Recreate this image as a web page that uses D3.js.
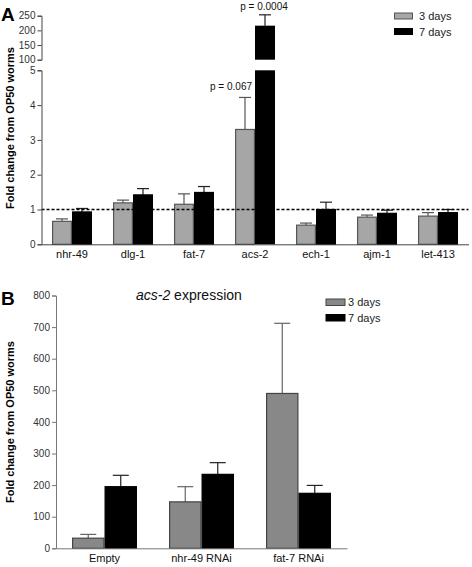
<!DOCTYPE html>
<html><head><meta charset="utf-8">
<script src="https://cdn.jsdelivr.net/npm/d3@7"></script>
<style>body{margin:0;background:#fff}svg{display:block;font-family:Arial,"Liberation Sans",sans-serif}</style>
</head><body><svg id="c" width="472" height="567"></svg>
<script>
// Panel A data
const genesA = ["nhr-49","dlg-1","fat-7","acs-2","ech-1","ajm-1","let-413"];
const a3 = [0.66, 1.19, 1.15, 3.30, 0.55, 0.78, 0.81];
const a3err = [0.07, 0.08, 0.30, 0.92, 0.06, 0.06, 0.10];
const a7 = [0.93, 1.42, 1.49, 216, 1.00, 0.89, 0.91];
const a7err = [0.10, 0.18, 0.17, 37, 0.21, 0.09, 0.09];
const ticksALow = [0,1,2,3,4,5];
const ticksAHigh = [100,150,200,250];
const pLabels = [{gene:"acs-2", series:0, text:"p = 0.067"},{gene:"acs-2", series:1, text:"p = 0.0004"}];
// Panel B data
const groupsB = ["Empty","nhr-49 RNAi","fat-7 RNAi"];
const b3 = [32, 147, 490];
const b3err = [12, 48, 222];
const b7 = [195, 234, 174];
const b7err = [36, 37, 25];
const ticksB = [0,100,200,300,400,500,600,700,800];
const seriesNames = ["3 days","7 days"];

const svg = d3.select("#c");
const fmt = d3.format("d");

// ---------- Panel A ----------
const A = svg.append("g");
const xA = d3.scaleBand().domain(genesA).range([41.5,468.5]).paddingInner(0.344).paddingOuter(0.172);
const xA2 = d3.scaleBand().domain([0,1]).range([0,xA.bandwidth()]);
const yLow = d3.scaleLinear().domain([0,5]).range([244.3,70.3]);
const yHigh = d3.scaleLinear().domain([100,250]).range([59.7,15.7]);
const fillA = ["#a6a6a6","#000"];
const strokeA = ["#555","#000"];

const dataA = genesA.map((g,i)=>[{g,s:0,v:a3[i],e:a3err[i]},{g,s:1,v:a7[i],e:a7err[i]}]).flat();

dataA.forEach(d=>{
  const x = xA(d.g)+xA2(d.s), w = xA2.bandwidth();
  const top = d.v>5 ? yHigh(d.v) : yLow(d.v);
  const errTop = d.v>5 ? yHigh(d.v+d.e) : yLow(d.v+d.e);
  const cx = x+w/2;
  A.append("line").attr("x1",cx).attr("x2",cx).attr("y1",top).attr("y2",errTop).attr("stroke",d.s?"#222":"#555").attr("stroke-width",1.2);
  A.append("line").attr("x1",cx-6).attr("x2",cx+6).attr("y1",errTop).attr("y2",errTop).attr("stroke",d.s?"#222":"#555").attr("stroke-width",1.2);
  if(d.v>5){
    A.append("rect").attr("x",x).attr("y",top).attr("width",w).attr("height",yHigh(100)-top).attr("fill",fillA[d.s]);
    A.append("rect").attr("x",x).attr("y",yLow(5)).attr("width",w).attr("height",yLow(0)-yLow(5)).attr("fill",fillA[d.s]);
  } else {
    A.append("rect").attr("x",x+0.6).attr("y",top).attr("width",w-1.2).attr("height",yLow(0)-top)
      .attr("fill",fillA[d.s]).attr("stroke",strokeA[d.s]).attr("stroke-width",1.2);
  }
});

// dotted reference line at 1
A.append("line").attr("x1",41.5).attr("x2",468.5).attr("y1",yLow(1)).attr("y2",yLow(1))
  .attr("stroke","#000").attr("stroke-width",1.5).attr("stroke-dasharray","3,2");

const axL = A.append("g").attr("transform","translate(41.5,0)").call(d3.axisLeft(yLow).tickValues(ticksALow).tickFormat(fmt).tickSize(4).tickSizeOuter(4).tickPadding(2));
const axH = A.append("g").attr("transform","translate(41.5,0)").call(d3.axisLeft(yHigh).tickValues(ticksAHigh).tickFormat(fmt).tickSize(4).tickSizeOuter(4).tickPadding(2));
[axL,axH].forEach(ax=>{ax.selectAll("path,line").attr("stroke","#444"); ax.selectAll("text").attr("font-size",10).attr("fill","#333");});
const axXA = A.append("g").attr("transform",`translate(0,${yLow(0)})`).call(d3.axisBottom(xA).tickSize(0).tickPadding(6));
axXA.select("path").attr("stroke","#444");
axXA.selectAll("text").attr("font-size",11).attr("fill","#111");

// p labels
pLabels.forEach(p=>{
  const i = genesA.indexOf(p.gene);
  if(p.series===0){
    A.append("text").attr("x",xA(p.gene)+xA2(1)-3).attr("y",yLow(a3[i]+a3err[i])-7).attr("text-anchor","end").attr("font-size",10).attr("fill","#111").text(p.text);
  } else {
    A.append("text").attr("x",xA(p.gene)+xA2(1)+xA2.bandwidth()/2-1).attr("y",yHigh(a7[i]+a7err[i])-5).attr("text-anchor","middle").attr("font-size",10).attr("fill","#111").text(p.text);
  }
});

// legend A
seriesNames.forEach((n,i)=>{
  A.append("rect").attr("x",394.5).attr("y",13+i*15.5).attr("width",18).attr("height",6).attr("fill",fillA[i]).attr("stroke",strokeA[i]);
  A.append("text").attr("x",419).attr("y",20+i*15.5).attr("font-size",11).attr("fill","#222").text(n);
});
A.append("text").attr("x",1).attr("y",21).attr("font-size",19).attr("font-weight","bold").text("A");
A.append("text").attr("transform","translate(14,128) rotate(-90)").attr("text-anchor","middle").attr("font-size",11).attr("font-weight","bold").text("Fold change from OP50 worms");

// ---------- Panel B ----------
const B = svg.append("g");
const xB = d3.scaleBand().domain(groupsB).range([56,347]).paddingInner(0.33).paddingOuter(0.165);
const xB2 = d3.scaleBand().domain([0,1]).range([0,xB.bandwidth()]);
const yB = d3.scaleLinear().domain([0,800]).range([548.3,295.5]);
const fillB = ["#888","#000"];
const strokeB = ["#444","#000"];
const dataB = groupsB.map((g,i)=>[{g,s:0,v:b3[i],e:b3err[i]},{g,s:1,v:b7[i],e:b7err[i]}]).flat();
dataB.forEach(d=>{
  const x = xB(d.g)+xB2(d.s), w = xB2.bandwidth(), cx = x+w/2;
  const col = d.s?"#222":"#666";
  B.append("line").attr("x1",cx).attr("x2",cx).attr("y1",yB(d.v)).attr("y2",yB(d.v+d.e)).attr("stroke",col).attr("stroke-width",1.2);
  B.append("line").attr("x1",cx-8).attr("x2",cx+8).attr("y1",yB(d.v+d.e)).attr("y2",yB(d.v+d.e)).attr("stroke",col).attr("stroke-width",1.2);
  B.append("rect").attr("x",x+0.6).attr("y",yB(d.v)).attr("width",w-1.2).attr("height",yB(0)-yB(d.v))
    .attr("fill",fillB[d.s]).attr("stroke",strokeB[d.s]).attr("stroke-width",1.2);
});
const axYB = B.append("g").attr("transform","translate(56,0)").call(d3.axisLeft(yB).tickValues(ticksB).tickFormat(fmt).tickSize(4).tickSizeOuter(4).tickPadding(2));
axYB.selectAll("path,line").attr("stroke","#777");
axYB.selectAll("text").attr("font-size",10).attr("fill","#333");
const axXB = B.append("g").attr("transform",`translate(0,${yB(0)})`).call(d3.axisBottom(xB).tickSize(0).tickPadding(6));
axXB.select("path").attr("stroke","#777");
axXB.selectAll("text").attr("font-size",11).attr("fill","#111");
seriesNames.forEach((n,i)=>{
  B.append("rect").attr("x",326).attr("y",299+i*15.5).attr("width",19).attr("height",6.5).attr("fill",fillB[i]).attr("stroke",strokeB[i]);
  B.append("text").attr("x",348).attr("y",306+i*15.5).attr("font-size",11).attr("fill","#222").text(n);
});
const t = B.append("text").attr("x",136).attr("y",299.5).attr("font-size",14).attr("fill","#111");
t.append("tspan").attr("font-style","italic").text("acs-2");
t.append("tspan").text(" expression");
B.append("text").attr("x",1).attr("y",305).attr("font-size",19).attr("font-weight","bold").text("B");
B.append("text").attr("transform","translate(14,422) rotate(-90)").attr("text-anchor","middle").attr("font-size",11).attr("font-weight","bold").text("Fold change from OP50 worms");
</script></body></html>
